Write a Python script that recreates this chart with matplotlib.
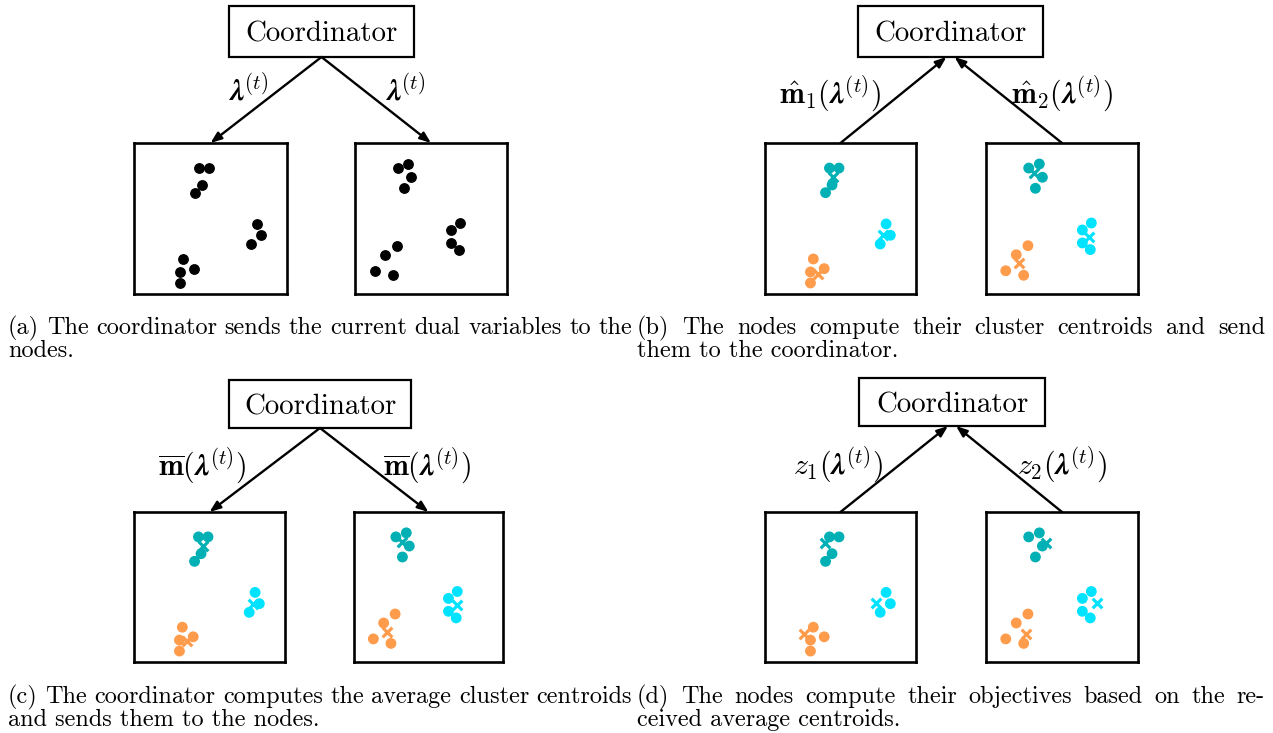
import matplotlib
matplotlib.use("Agg")
import matplotlib.pyplot as plt
from matplotlib.patches import Rectangle

plt.rcParams['font.family'] = 'cmr10'
plt.rcParams['mathtext.fontset'] = 'cm'
plt.rcParams['axes.unicode_minus'] = False

# ---------------- data (node-local coordinates, x right, y down, 0..1) -------------
node1_x = [0.427, 0.490, 0.444, 0.401, 0.802, 0.830, 0.763, 0.320, 0.392, 0.301, 0.301]
node1_y = [0.166, 0.166, 0.278, 0.329, 0.536, 0.611, 0.669, 0.768, 0.832, 0.854, 0.927]
node1_cluster = [0, 0, 0, 0, 1, 1, 1, 2, 2, 2, 2]

node2_x = [0.281, 0.351, 0.371, 0.325, 0.693, 0.634, 0.634, 0.686, 0.276, 0.199, 0.130, 0.248]
node2_y = [0.166, 0.139, 0.227, 0.300, 0.530, 0.576, 0.662, 0.706, 0.680, 0.740, 0.846, 0.876]
node2_cluster = [0, 0, 0, 0, 1, 1, 1, 1, 2, 2, 2, 2]

# centroids shown in each panel (cluster order: teal, cyan, orange)
cent_b_node1_x = [0.449, 0.784, 0.348]
cent_b_node1_y = [0.223, 0.609, 0.870]
cent_b_node2_x = [0.313, 0.680, 0.217]
cent_b_node2_y = [0.201, 0.620, 0.797]
cent_c_node1_x = [0.455, 0.790, 0.352]
cent_c_node1_y = [0.227, 0.613, 0.862]
cent_c_node2_x = [0.324, 0.692, 0.223]
cent_c_node2_y = [0.197, 0.620, 0.798]
cent_d_x = [0.395, 0.732, 0.260]
cent_d_y = [0.209, 0.609, 0.811]

cluster_colors = ['#00b0b4', '#00e3ff', '#ff9c4c']


def pick_lambda():
    for cand in (r'\mathbfit{\lambda}', r'\boldsymbol{\lambda}', r'\lambda'):
        try:
            f = plt.figure()
            f.text(0.5, 0.5, '$' + cand + '$')
            f.canvas.draw()
            plt.close(f)
            return cand
        except Exception:
            plt.close('all')
    return r'\lambda'


LAM = pick_lambda()

labels = {
    'a': (r'$%s^{(t)}$' % LAM, r'$%s^{(t)}$' % LAM),
    'b': (r'$\hat{\mathbf{m}}_1(%s^{(t)})$' % LAM, r'$\hat{\mathbf{m}}_2(%s^{(t)})$' % LAM),
    'c': (r'$\overline{\mathbf{m}}(%s^{(t)})$' % LAM, r'$\overline{\mathbf{m}}(%s^{(t)})$' % LAM),
    'd': (r'$z_1(%s^{(t)})$' % LAM, r'$z_2(%s^{(t)})$' % LAM),
}
captions = {
    'a': ["(a) The coordinator sends the current dual variables to the", "nodes."],
    'b': ["(b) The nodes compute their cluster centroids and send", "them to the coordinator."],
    'c': ["(c) The coordinator computes the average cluster centroids", "and sends them to the nodes."],
    'd': ["(d) The nodes compute their objectives based on the re-", "ceived average centroids."],
}

# ---------------- layout (pixels) ----------------
W, H = 1273, 733
fig = plt.figure(figsize=(W / 100, H / 100), dpi=100)
main = fig.add_axes([0, 0, 1, 1])
main.set_xlim(0, W)
main.set_ylim(H, 0)
main.axis('off')

panels = {
    'a': dict(coord=(229, 6, 414, 57), nodes=[(134, 143, 287, 294), (355, 143, 507, 294)],
              down=True, lab=[(248, 90), (405, 90)], cap=(8, 632, 334, 357)),
    'b': dict(coord=(858, 6, 1043, 57), nodes=[(765, 143, 916, 294), (986, 143, 1138, 294)],
              down=False, lab=[(830, 94), (1062, 94)], cap=(637, 1265, 334, 357)),
    'c': dict(coord=(229, 380, 411, 428), nodes=[(134, 512, 285, 662), (354, 512, 503, 662)],
              down=True, lab=[(202, 466), (427, 466)], cap=(8, 632, 703, 726)),
    'd': dict(coord=(859, 378, 1045, 426), nodes=[(765, 512, 916, 662), (986, 512, 1138, 662)],
              down=False, lab=[(838, 465), (1062, 465)], cap=(637, 1265, 703, 726)),
}

centroids = {
    'a': None,
    'b': [(cent_b_node1_x, cent_b_node1_y), (cent_b_node2_x, cent_b_node2_y)],
    'c': [(cent_c_node1_x, cent_c_node1_y), (cent_c_node2_x, cent_c_node2_y)],
    'd': [(cent_d_x, cent_d_y), (cent_d_x, cent_d_y)],
}

nodes_data = [(node1_x, node1_y, node1_cluster), (node2_x, node2_y, node2_cluster)]

renderer = fig.canvas.get_renderer()
CAP_SIZE = 17.5


def justify(words, x0, x1, y, size):
    texts = [main.text(0, y, w, fontsize=size, ha='left', va='baseline') for w in words]
    widths = [t.get_window_extent(renderer).width for t in texts]
    gap = (x1 - x0 - sum(widths)) / (len(words) - 1)
    x = x0
    for t, w in zip(texts, widths):
        t.set_x(x)
        x += w + gap


for key, p in panels.items():
    cx0, cy0, cx1, cy1 = p['coord']
    main.add_patch(Rectangle((cx0, cy0), cx1 - cx0, cy1 - cy0, fill=False, lw=1.6, ec='black'))
    main.text((cx0 + cx1) / 2, (cy0 + cy1) / 2 + 3, 'Coordinator', fontsize=20.8,
              ha='center', va='center')
    cmid = (cx0 + cx1) / 2
    for i, (nx0, ny0, nx1, ny1) in enumerate(p['nodes']):
        ax = fig.add_axes([nx0 / W, 1 - ny1 / H, (nx1 - nx0) / W, (ny1 - ny0) / H])
        ax.set_xlim(0, 1)
        ax.set_ylim(1, 0)
        ax.set_xticks([])
        ax.set_yticks([])
        for s in ax.spines.values():
            s.set_linewidth(1.9)
        xs, ys, cl = nodes_data[i]
        if key == 'a':
            ax.scatter(xs, ys, s=46, color='black', zorder=3)
        else:
            ax.scatter(xs, ys, s=46, color=[cluster_colors[c] for c in cl], zorder=3)
            cxs, cys = centroids[key][i]
            for k in range(3):
                ax.scatter([cxs[k]], [cys[k]], marker='x', s=48, lw=2.3,
                           color=cluster_colors[k], zorder=4)
        nmid = (nx0 + nx1) / 2
        if p['down']:
            start, end = (cmid, cy1), (nmid, ny0)
        else:
            off = -4 if i == 0 else 4
            start, end = (nmid, ny0), (cmid + off, cy1)
        main.annotate('', xy=end, xytext=start,
                      arrowprops=dict(arrowstyle='-|>,head_length=0.65,head_width=0.25',
                                      lw=1.7, color='black', shrinkA=0, shrinkB=0))
        lx, ly = p['lab'][i]
        main.text(lx, ly, labels[key][i], fontsize=21.5, ha='center', va='center')
    x0, x1, yl1, yl2 = p['cap']
    justify(captions[key][0].split(' '), x0, x1, yl1, CAP_SIZE)
    main.text(x0, yl2, captions[key][1], fontsize=CAP_SIZE, ha='left', va='baseline')

fig.savefig('out.png', dpi=100)
